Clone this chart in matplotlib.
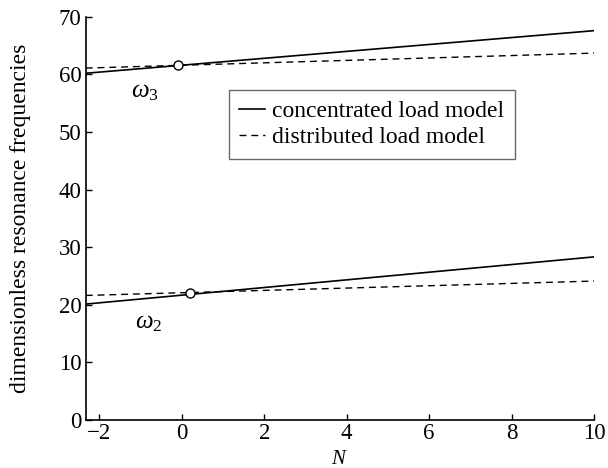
import matplotlib
matplotlib.use("Agg")
import matplotlib.pyplot as plt

plt.rcParams['font.family'] = ['Liberation Serif', 'DejaVu Serif']
plt.rcParams['mathtext.fontset'] = 'custom'
plt.rcParams['mathtext.it'] = 'Liberation Serif:italic'
plt.rcParams['mathtext.rm'] = 'Liberation Serif'

# end points of the straight lines
N = [-2.33, 10]
w3_conc = [60.2, 67.6]
w3_dist = [61.1, 63.7]
w2_conc = [20.1, 28.3]
w2_dist = [21.6, 24.1]

# intersection markers
cross_N = [-0.1, 0.2]
cross_w = [61.6, 22.0]

fig = plt.figure(figsize=(6.08, 4.68), dpi=100)
ax = fig.add_axes([0.141, 0.103, 0.836, 0.861])

ax.plot(N, w3_conc, color="black", lw=1.2, label="concentrated load model")
ax.plot(N, w3_dist, color="black", lw=1.0, ls=(0, (5, 3.5)), label="distributed load model")
ax.plot(N, w2_conc, color="black", lw=1.2)
ax.plot(N, w2_dist, color="black", lw=1.0, ls=(0, (5, 3.5)))
ax.plot(cross_N, cross_w, "o", mfc="white", mec="black", ms=6.5, mew=1.0, zorder=5)

ax.text(-0.9, 57.0, r"$\omega_3$", fontsize=18, ha="center", va="center")
ax.text(-0.8, 16.8, r"$\omega_2$", fontsize=18, ha="center", va="center")

ax.set_xlim(-2.33, 10)
ax.set_ylim(0, 70)
ax.set_xticks(range(-2, 11, 2))
ax.set_yticks(range(0, 71, 10))
ax.set_xticklabels(["\u22122", "0", "2", "4", "6", "8", "10"])
ax.tick_params(direction="in", length=4, width=1, labelsize=16.5, pad=3)
ax.tick_params(axis="x", pad=2)
ax.spines["top"].set_visible(False)
ax.spines["right"].set_visible(False)
ax.spines["left"].set_linewidth(1.2)
ax.spines["bottom"].set_linewidth(1.2)

ax.set_xlabel("$N$", fontsize=15)
ax.xaxis.set_label_coords(0.5, -0.075)
ax.set_ylabel("dimensionless resonance frequencies", fontsize=17)
ax.yaxis.set_label_coords(-0.108, 0.5)

leg = ax.legend(loc="upper left", bbox_to_anchor=(0.2815, 0.819), borderaxespad=0,
                fontsize=17, frameon=True, fancybox=False, handlelength=1.1,
                borderpad=0.45, labelspacing=0.2, handletextpad=0.3)
leg.get_frame().set_edgecolor("#444444")
leg.get_frame().set_linewidth(1.0)

fig.savefig("out.png", dpi=100)
